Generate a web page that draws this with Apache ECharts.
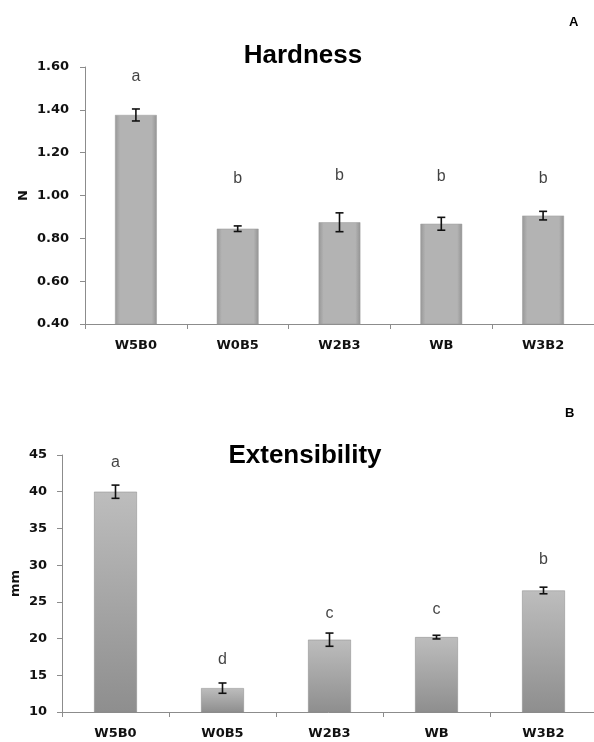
<!DOCTYPE html>
<html>
<head>
<meta charset="utf-8">
<script src="https://cdn.jsdelivr.net/npm/echarts@6/dist/echarts.min.js"></script>
<style>
  html, body { margin: 0; padding: 0; background: #fff; }
  #chart { width: 594px; height: 742px; }
</style>
</head>
<body>
<div id="chart"></div>
<script>
  // values
  var categories = ["W5B0", "W0B5", "W2B3", "WB", "W3B2"];

  var hardness = [1.376, 0.845, 0.875, 0.868, 0.906];
  var hardnessErr = [0.028, 0.013, 0.044, 0.030, 0.020];
  var hardnessLetters = ["a", "b", "b", "b", "b"];
  var hardnessLetterY = [1.553, 1.077, 1.091, 1.086, 1.077];
  var hardnessTicks = { min: 0.4, max: 1.6, interval: 0.2 };

  var extensibility = [40.0, 13.25, 19.85, 20.2, 26.55];
  var extensibilityErr = [0.9, 0.7, 0.9, 0.25, 0.45];
  var extensibilityLetters = ["a", "d", "c", "c", "b"];
  var extensibilityLetterY = [43.9, 17.1, 23.4, 23.9, 30.7];
  var extensibilityTicks = { min: 10, max: 45, interval: 5 };

  var TITLE_FONT = "Liberation Sans";
  var AXIS_FONT = "DejaVu Sans";

  function errorRows(values, errs) {
    return values.map(function (v, i) {
      return [i, v - errs[i], v + errs[i]];
    });
  }

  function letterRows(ys) {
    return ys.map(function (y, i) { return [i, y]; });
  }

  // I-shaped error bar: stem plus two caps
  function errorBarItem(params, api) {
    var x = api.value(0);
    var lo = api.coord([x, api.value(1)]);
    var hi = api.coord([x, api.value(2)]);
    var half = 4;
    var style = { stroke: "#111", lineWidth: 1.6 };
    return {
      type: "group",
      children: [
        { type: "line", shape: { x1: hi[0], y1: hi[1], x2: lo[0], y2: lo[1] }, style: style },
        { type: "line", shape: { x1: hi[0] - half, y1: hi[1], x2: hi[0] + half, y2: hi[1] }, style: style },
        { type: "line", shape: { x1: lo[0] - half, y1: lo[1], x2: lo[0] + half, y2: lo[1] }, style: style }
      ]
    };
  }

  function xAxisFor(gridIndex) {
    return {
      type: "category",
      gridIndex: gridIndex,
      data: categories,
      boundaryGap: true,
      axisLine: { lineStyle: { color: "#8c8c8c", width: 1 } },
      axisTick: { show: true, length: 5, lineStyle: { color: "#8c8c8c" } },
      axisLabel: { color: "#111", fontFamily: AXIS_FONT, fontWeight: "bold", fontSize: 13, margin: 15 },
      splitLine: { show: false }
    };
  }

  function yAxisFor(gridIndex, ticks, name, nameGap, labelGap, fmt) {
    return {
      type: "value",
      gridIndex: gridIndex,
      min: ticks.min,
      max: ticks.max,
      interval: ticks.interval,
      name: name,
      nameLocation: "middle",
      nameGap: nameGap,
      nameMoveOverlap: false,
      nameTextStyle: { color: "#111", fontFamily: AXIS_FONT, fontWeight: "bold", fontSize: 13 },
      axisLine: { show: true, lineStyle: { color: "#8c8c8c", width: 1 } },
      axisTick: { show: true, length: 5, lineStyle: { color: "#8c8c8c" } },
      axisLabel: { color: "#111", fontFamily: AXIS_FONT, fontWeight: "bold", fontSize: 13, margin: labelGap, formatter: fmt },
      splitLine: { show: false }
    };
  }

  var topBarColor = new echarts.graphic.LinearGradient(0, 0, 1, 0, [
    { offset: 0, color: "#979797" },
    { offset: 0.12, color: "#b3b3b3" },
    { offset: 0.88, color: "#b3b3b3" },
    { offset: 1, color: "#939393" }
  ]);
  var bottomBarColor = new echarts.graphic.LinearGradient(0, 0, 0, 1, [
    { offset: 0, color: "#bdbdbd" },
    { offset: 1, color: "#8e8e8e" }
  ]);

  function letterSeries(idx, ys, letters) {
    return {
      type: "scatter",
      xAxisIndex: idx,
      yAxisIndex: idx,
      data: letterRows(ys),
      symbolSize: 0,
      silent: true,
      label: {
        show: true,
        position: "inside",
        color: "#111",
        fontFamily: TITLE_FONT,
        fontSize: 16,
        formatter: function (p) { return letters[p.dataIndex]; }
      }
    };
  }

  var chart = echarts.init(document.getElementById("chart"), null, { renderer: "canvas" });

  chart.setOption({
    backgroundColor: "#fff",
    animation: false,
    title: [
      { text: "Hardness", left: 298, top: 38, textAlign: "center",
        textStyle: { fontFamily: TITLE_FONT, fontWeight: "bold", fontSize: 26, color: "#000" } },
      { text: "A", left: 564, top: 11,
        textStyle: { fontFamily: TITLE_FONT, fontWeight: "bold", fontSize: 13, color: "#000" } },
      { text: "Extensibility", left: 300, top: 438, textAlign: "center",
        textStyle: { fontFamily: TITLE_FONT, fontWeight: "bold", fontSize: 26, color: "#000" } },
      { text: "B", left: 560, top: 402,
        textStyle: { fontFamily: TITLE_FONT, fontWeight: "bold", fontSize: 13, color: "#000" } }
    ],
    grid: [
      { left: 85, right: 0, top: 67, height: 257, outerBoundsMode: "none" },
      { left: 62, right: -3, top: 455, height: 257, outerBoundsMode: "none" }
    ],
    xAxis: [xAxisFor(0), xAxisFor(1)],
    yAxis: [
      yAxisFor(0, hardnessTicks, "N", 55, 16, function (v) { return v.toFixed(2); }),
      yAxisFor(1, extensibilityTicks, "mm", 40, 15, function (v) { return String(v); })
    ],
    series: [
      {
        type: "bar",
        xAxisIndex: 0,
        yAxisIndex: 0,
        data: hardness,
        barWidth: "41%",
        itemStyle: { color: topBarColor, borderColor: "#9a9a9a", borderWidth: 0.5 }
      },
      {
        type: "custom",
        xAxisIndex: 0,
        yAxisIndex: 0,
        data: errorRows(hardness, hardnessErr),
        renderItem: errorBarItem,
        z: 5
      },
      letterSeries(0, hardnessLetterY, hardnessLetters),
      {
        type: "bar",
        xAxisIndex: 1,
        yAxisIndex: 1,
        data: extensibility,
        barWidth: "40%",
        itemStyle: { color: bottomBarColor, borderColor: "#888", borderWidth: 0.5 }
      },
      {
        type: "custom",
        xAxisIndex: 1,
        yAxisIndex: 1,
        data: errorRows(extensibility, extensibilityErr),
        renderItem: errorBarItem,
        z: 5
      },
      letterSeries(1, extensibilityLetterY, extensibilityLetters)
    ]
  });
</script>
</body>
</html>
